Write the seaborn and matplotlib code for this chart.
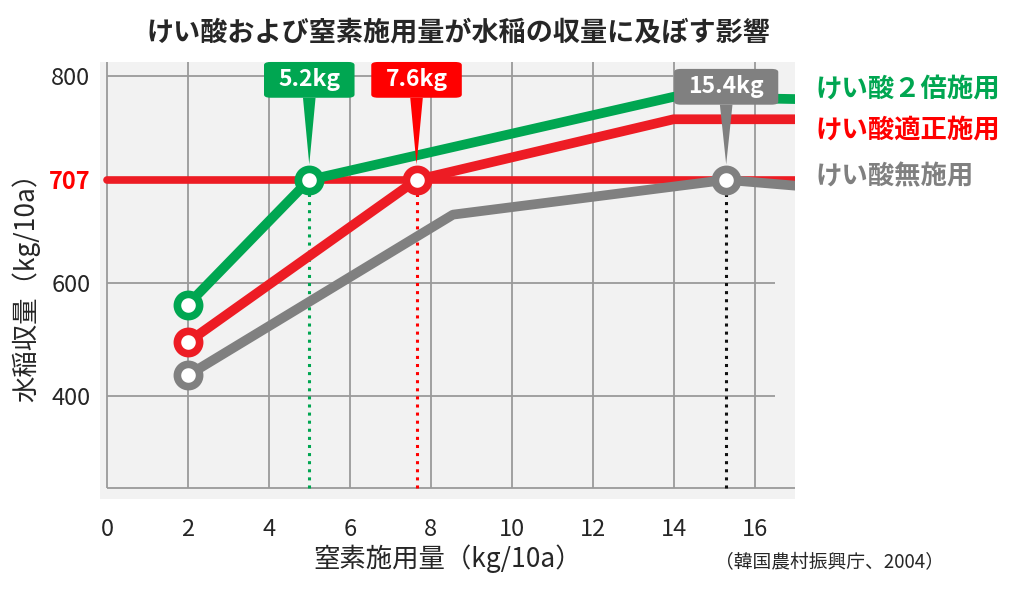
import numpy as np
import matplotlib
matplotlib.use('Agg')
import matplotlib.pyplot as plt
import seaborn as sns

# --- DATA ---
n_twice = [2, 5.0, 14, 17]          # けい酸２倍施用
y_twice = [562, 707, 781, 779]
n_proper = [2, 7.65, 14, 17]        # けい酸適正施用
y_proper = [495, 707, 761, 761]
n_none = [2, 8.55, 15.3, 17]        # けい酸無施用
y_none = [436, 671, 707, 701]

target_yield = 707
optimum_n = [5.0, 7.65, 15.3]
optimum_labels = ['5.2kg', '7.6kg', '15.4kg']
series_names = ['けい酸２倍施用', 'けい酸適正施用', 'けい酸無施用']

x_ticks = [0, 2, 4, 6, 8, 10, 12, 14, 16]
y_ticks = [400, 600, 707, 800]
y_grid = [400, 600, 800]

# the original y axis is drawn piecewise, not to a linear scale
Y_BREAKS = [200, 400, 600, 707, 800, 900]
Y_POS = [0, 112, 224, 327, 431, 534.5]


def fwd(v):
    return np.interp(v, Y_BREAKS, Y_POS)


def inv(p):
    return np.interp(p, Y_POS, Y_BREAKS)


GREEN = '#00a651'
RED = '#ed1c24'
GRAY = '#808080'

sns.set_theme(style='white')
plt.rcParams['font.family'] = ['Noto Sans CJK JP', 'DejaVu Sans']

fig = plt.figure(figsize=(10.24, 5.92), dpi=100)
ax = fig.add_axes([100 / 1024, 1 - 499 / 592, 695 / 1024, 437 / 592])
ax.set_facecolor('#f2f2f2')
ax.set_yscale('function', functions=(fwd, inv))
ax.set_xlim(-0.17, 17.0)
y_bottom, y_top = 216, 813
ax.set_ylim(y_bottom, y_top)
axis_y = 236
for s in ax.spines.values():
    s.set_visible(False)

# --- grid ---
grid_kw = dict(color='#9a9a9a', lw=1.3, zorder=1)
ax.vlines(x_ticks, axis_y, y_top, **grid_kw)
ax.hlines(y_grid, 0, 16.5, **grid_kw)
ax.hlines(axis_y, 0, 17.0, **grid_kw)

# --- target line ---
ax.axhline(target_yield, xmin=0.17 / 17.17, color=RED, lw=5.5, zorder=2)

# --- dotted drops ---
drop_colors = [GREEN, '#ff0000', '#111111']
for xn, c in zip(optimum_n, drop_colors):
    ax.vlines(xn, axis_y, target_yield, colors=c, linestyles=':', lw=2.2, zorder=2)

# --- series ---
series = [(n_none, y_none, GRAY), (n_proper, y_proper, RED), (n_twice, y_twice, GREEN)]
opt_for = [optimum_n[2], optimum_n[1], optimum_n[0]]
for (xs, ys, c), xo in zip(series, opt_for):
    mk = [0, xs.index(xo)]
    sns.lineplot(x=xs, y=ys, ax=ax, color=c, lw=7, sort=False, marker='o',
                 markevery=mk, ms=16, mfc='white', mec=c, mew=5.5, zorder=3)

# --- callouts ---
box_colors = [GREEN, '#ff0000', GRAY]
offsets = [72, 72, 67]
for xn, lab, c, off in zip(optimum_n, optimum_labels, box_colors, offsets):
    ax.annotate(lab, xy=(xn, target_yield), xytext=(0, off), textcoords='offset points',
                ha='center', va='center', color='white', fontsize=16.5, fontweight='bold',
                bbox=dict(boxstyle='round,pad=0.62,rounding_size=0.3', fc=c, ec='none',
                          mutation_aspect=0.45),
                arrowprops=dict(arrowstyle='wedge,tail_width=0.55', fc=c, ec='none',
                                shrinkA=0, shrinkB=11), zorder=5)

# --- ticks ---
ax.set_xticks(x_ticks)
ax.set_xticklabels([str(t) for t in x_ticks])
ax.set_yticks(y_ticks)
ax.set_yticklabels([str(t) for t in y_ticks])
ax.tick_params(axis='x', length=0, pad=14, labelsize=17)
ax.tick_params(axis='y', length=0, pad=7, labelsize=17)
for t in ax.get_yticklabels():
    if t.get_text() == str(target_yield):
        t.set_color('#ff0000')
        t.set_fontweight('bold')
ax.minorticks_off()

ax.set_xlabel('窒素施用量（kg/10a）', fontsize=19, labelpad=2)
ax.set_ylabel('水稲収量（kg/10a）', fontsize=19, labelpad=6)

# --- series names at right ---
name_colors = [GREEN, '#ff0000', GRAY]
name_y = [89, 130, 177]
for name, c, yy in zip(series_names, name_colors, name_y):
    fig.text(815 / 1024, 1 - yy / 592, name, color=c, fontsize=19, fontweight='bold',
             ha='left', va='center')

fig.text(458 / 1024, 1 - 32 / 592, 'けい酸および窒素施用量が水稲の収量に及ぼす影響',
         fontsize=19.5, fontweight='bold', ha='center', va='center')
fig.text(830 / 1024, 1 - 563 / 592, '（韓国農村振興庁、2004）', fontsize=13.5,
         ha='center', va='center')

fig.savefig('out.png', dpi=100)
